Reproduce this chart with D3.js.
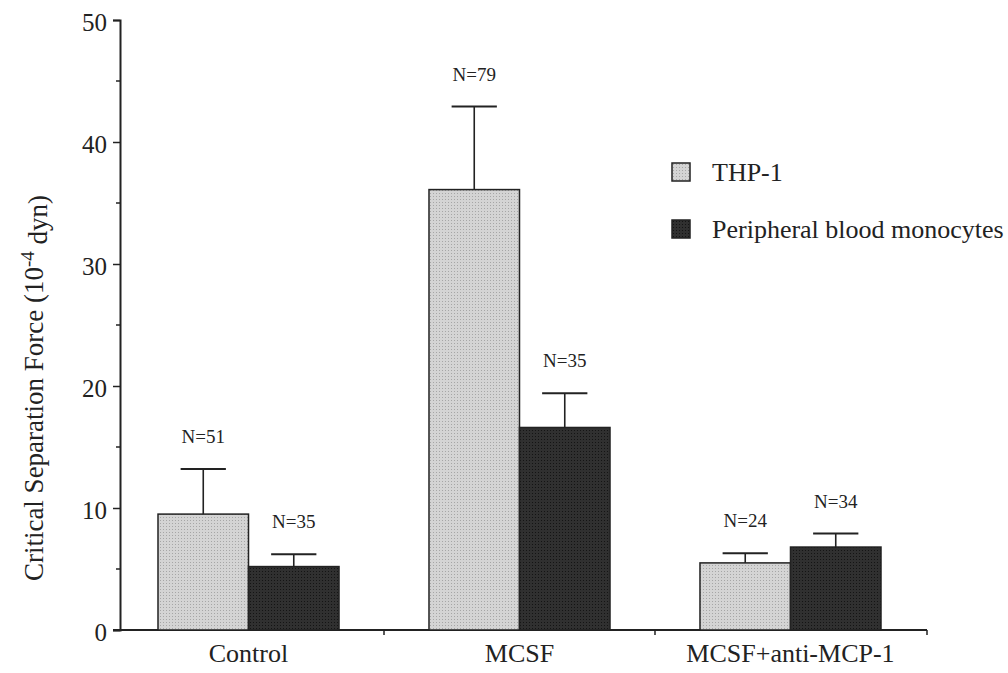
<!DOCTYPE html>
<html>
<head>
<meta charset="utf-8">
<script src="https://cdn.jsdelivr.net/npm/d3@7"></script>
<style>
  body { margin: 0; background: #fff; }
  svg text { font-family: "Liberation Serif", "Times New Roman", "DejaVu Serif", serif; }
</style>
</head>
<body>
<svg id="chart" width="1008" height="673"></svg>
<script>
// data
const groups = ["Control", "MCSF", "MCSF+anti-MCP-1"];
const series = ["THP-1", "Peripheral blood monocytes"];
const thpMean = [9.5, 36.1, 5.5];
const thpErr = [13.2, 42.9, 6.3];
const pbmMean = [5.2, 16.6, 6.8];
const pbmErr = [6.2, 19.4, 7.9];
const thpN = ["N=51", "N=79", "N=24"];
const pbmN = ["N=35", "N=35", "N=34"];
const yTicks = [0, 10, 20, 30, 40, 50];

const ink = "#222";
const serif = "Liberation Serif, Times New Roman, serif";

const svg = d3.select("#chart");

const y = d3.scaleLinear().domain([0, 50]).range([630, 20]);
const x = d3.scaleBand().domain(groups).range([158, 881])
    .paddingInner(0.332).paddingOuter(0);
const xs = d3.scaleBand().domain(series).range([0, x.bandwidth()]);

// stipple patterns for the fills
const defs = svg.append("defs");
function stipple(id, base, dot) {
    const p = defs.append("pattern").attr("id", id)
        .attr("width", 3).attr("height", 3).attr("patternUnits", "userSpaceOnUse");
    p.append("rect").attr("width", 3).attr("height", 3).attr("fill", base);
    p.append("rect").attr("x", 1).attr("y", 1).attr("width", 1).attr("height", 1).attr("fill", dot);
}
stipple("thp", "#d4d4d4", "#a6a6a6");
stipple("pbm", "#303030", "#141414");
const fills = { "THP-1": "url(#thp)", "Peripheral blood monocytes": "url(#pbm)" };

// build rows
const rows = [];
groups.forEach((g, i) => {
    rows.push({ group: g, series: series[0], mean: thpMean[i], err: thpErr[i], n: thpN[i] });
    rows.push({ group: g, series: series[1], mean: pbmMean[i], err: pbmErr[i], n: pbmN[i] });
});

// y axis
const yAxis = d3.axisLeft(y).tickValues(yTicks).tickSize(7).tickPadding(6).tickFormat(d3.format("d"));
const yg = svg.append("g").attr("transform", "translate(120,0)").call(yAxis)
    .attr("font-family", serif);
yg.select(".domain").attr("stroke", ink).attr("stroke-width", 2);
yg.selectAll(".tick line").attr("stroke", ink).attr("stroke-width", 1.5);
yg.selectAll(".tick text").attr("fill", ink).attr("font-size", 25).attr("dy", "0.4em");

// minor ticks
svg.append("g").selectAll("line")
    .data(d3.range(5, 50, 10))
    .join("line")
    .attr("x1", 116).attr("x2", 120)
    .attr("y1", d => y(d)).attr("y2", d => y(d))
    .attr("stroke", ink).attr("stroke-width", 1.5);

// x axis baseline with ticks between groups
const xg = svg.append("g").attr("transform", "translate(0,630)");
xg.append("line").attr("x1", 113).attr("x2", 927).attr("stroke", ink).attr("stroke-width", 2);
const half = x.step() * x.paddingInner() / 2;
const bounds = [x(groups[1]) - half, x(groups[2]) - half, 927];
xg.selectAll(".bt").data(bounds).join("line")
    .attr("x1", d => d).attr("x2", d => d).attr("y1", 0).attr("y2", 5)
    .attr("stroke", ink).attr("stroke-width", 1.5);
xg.selectAll(".lbl").data(groups).join("text")
    .attr("x", d => x(d) + x.bandwidth() / 2).attr("y", 32)
    .attr("text-anchor", "middle").attr("fill", ink)
    .attr("font-family", serif).attr("font-size", 26).text(d => d);

// bars
const bars = svg.append("g");
bars.selectAll("rect").data(rows).join("rect")
    .attr("x", d => x(d.group) + xs(d.series))
    .attr("y", d => y(d.mean))
    .attr("width", xs.bandwidth())
    .attr("height", d => y(0) - y(d.mean))
    .attr("fill", d => fills[d.series])
    .attr("stroke", ink).attr("stroke-width", 1.5);

// error bars
const cx = d => x(d.group) + xs(d.series) + xs.bandwidth() / 2;
const capW = xs.bandwidth() * 0.5;
bars.selectAll(".ev").data(rows).join("line")
    .attr("x1", cx).attr("x2", cx)
    .attr("y1", d => y(d.mean)).attr("y2", d => y(d.err))
    .attr("stroke", ink).attr("stroke-width", 1.6);
bars.selectAll(".ec").data(rows).join("line")
    .attr("x1", d => cx(d) - capW / 2).attr("x2", d => cx(d) + capW / 2)
    .attr("y1", d => y(d.err)).attr("y2", d => y(d.err))
    .attr("stroke", ink).attr("stroke-width", 2);

// N labels
bars.selectAll(".nl").data(rows).join("text")
    .attr("x", cx).attr("y", d => y(d.err) - 26)
    .attr("text-anchor", "middle").attr("fill", ink)
    .attr("font-family", serif).attr("font-size", 19).text(d => d.n);

// y title
const title = svg.append("text")
    .attr("transform", "translate(43,388) rotate(-90)")
    .attr("text-anchor", "middle").attr("fill", ink)
    .attr("font-family", serif).attr("font-size", 27);
title.append("tspan").text("Critical Separation Force (10");
title.append("tspan").attr("dy", "-0.45em").attr("font-size", 19).text("-4");
title.append("tspan").attr("dy", "0.45em").text(" dyn)");

// legend
const legend = svg.append("g").attr("transform", "translate(672,163)");
const li = legend.selectAll("g").data(series).join("g")
    .attr("transform", (d, i) => `translate(0,${i * 57})`);
li.append("rect").attr("width", 18).attr("height", 18)
    .attr("fill", d => fills[d]).attr("stroke", ink).attr("stroke-width", 1.5);
li.append("text").attr("x", 40).attr("y", 18).attr("fill", ink)
    .attr("font-family", serif).attr("font-size", 26).text(d => d);
</script>
</body>
</html>
